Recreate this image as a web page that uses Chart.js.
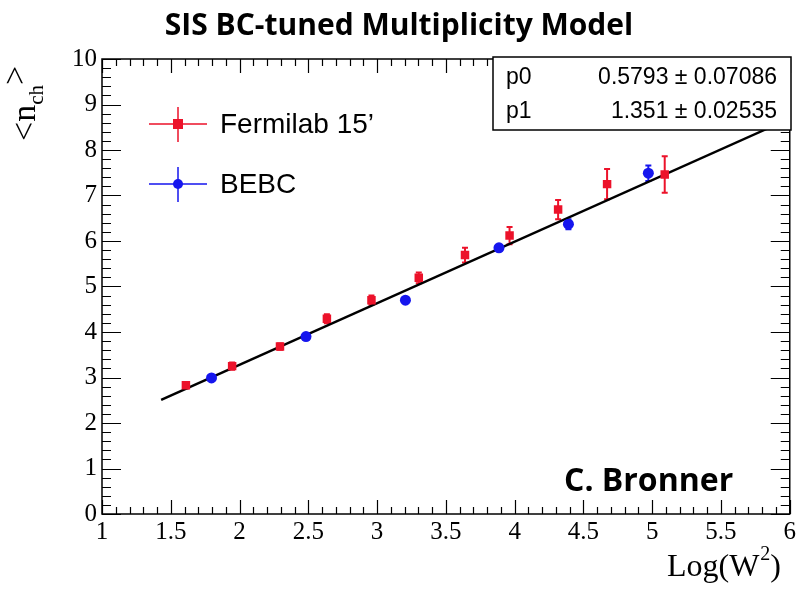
<!DOCTYPE html>
<html lang="en">
<head>
    <meta charset="UTF-8">
    <title>SIS BC-tuned Multiplicity Model</title>
    <script src="https://cdn.jsdelivr.net/npm/chart.js"></script>
    <style>
        html, body { margin: 0; padding: 0; background: #fff; }
        #wrap { width: 799px; height: 590px; }
    </style>
</head>
<body>
    <div id="wrap"><canvas id="multChart" width="799" height="590"></canvas></div>
    <script>
        // Data
        const fermiX = [1.61, 1.946, 2.294, 2.635, 2.959, 3.303, 3.639, 3.963, 4.316, 4.672, 5.091];
        const fermiY = [2.83, 3.25, 3.68, 4.29, 4.70, 5.19, 5.69, 6.12, 6.69, 7.25, 7.46];
        const fermiErr = [0.07, 0.08, 0.07, 0.10, 0.10, 0.12, 0.16, 0.19, 0.21, 0.33, 0.40];

        const bebcX = [1.796, 2.483, 3.206, 3.886, 4.391, 4.972];
        const bebcY = [2.99, 3.90, 4.70, 5.85, 6.37, 7.49];
        const bebcErr = [0.05, 0.05, 0.05, 0.06, 0.11, 0.17];

        // fit line end points
        const fitX = [1.43, 6.0];
        const fitY = [2.51, 8.69];

        const fitParams = ['p0', 'p1'];
        const fitValues = ['0.5793', '1.351'];
        const fitErrors = ['0.07086', '0.02535'];

        const xTicks = [1, 1.5, 2, 2.5, 3, 3.5, 4, 4.5, 5, 5.5, 6];
        const yTicks = [0, 1, 2, 3, 4, 5, 6, 7, 8, 9, 10];

        const RED = 'rgb(236, 18, 42)';
        const BLUE = 'rgb(22, 22, 238)';
        const SERIF = '"Liberation Serif", "DejaVu Serif", serif';
        const SANS = '"Liberation Sans", Arial, sans-serif';
        const BOLD = '"Open Sans", Lato, sans-serif';

        const toPoints = (xs, ys) => xs.map((x, i) => ({ x: x, y: ys[i] }));

        const rootStyle = {
            id: 'rootStyle',
            beforeDatasetsDraw(chart) {
                // vertical error bars
                const ctx = chart.ctx;
                const xs = chart.scales.x, ys = chart.scales.y;
                const sets = [[fermiX, fermiY, fermiErr, RED], [bebcX, bebcY, bebcErr, BLUE]];
                ctx.save();
                ctx.lineWidth = 2;
                sets.forEach(([px, py, pe, col]) => {
                    ctx.strokeStyle = col;
                    px.forEach((x, i) => {
                        const cx = xs.getPixelForValue(x);
                        const y1 = ys.getPixelForValue(py[i] - pe[i]);
                        const y2 = ys.getPixelForValue(py[i] + pe[i]);
                        ctx.beginPath();
                        ctx.moveTo(cx, y1); ctx.lineTo(cx, y2);
                        ctx.moveTo(cx - 3, y1); ctx.lineTo(cx + 3, y1);
                        ctx.moveTo(cx - 3, y2); ctx.lineTo(cx + 3, y2);
                        ctx.stroke();
                    });
                });
                ctx.restore();
            },
            afterDraw(chart) {
                const ctx = chart.ctx;
                const a = chart.chartArea;
                const xs = chart.scales.x, ys = chart.scales.y;
                ctx.save();

                // frame
                ctx.strokeStyle = '#000';
                ctx.lineWidth = 1.5;
                ctx.strokeRect(a.left, a.top, a.right - a.left, a.bottom - a.top);

                // ticks on all four sides
                ctx.lineWidth = 1.2;
                ctx.beginPath();
                for (let v = 1; v <= 6.0001; v += 0.1) {
                    const major = Math.abs(v * 2 - Math.round(v * 2)) < 1e-6;
                    const len = major ? 14 : 7;
                    const px = Math.round(xs.getPixelForValue(v)) + 0.5;
                    ctx.moveTo(px, a.bottom); ctx.lineTo(px, a.bottom - len);
                    ctx.moveTo(px, a.top); ctx.lineTo(px, a.top + len);
                }
                for (let v = 0; v <= 10.0001; v += 0.2) {
                    const major = Math.abs(v - Math.round(v)) < 1e-6;
                    const len = major ? 19 : 9;
                    const py = Math.round(ys.getPixelForValue(v)) + 0.5;
                    ctx.moveTo(a.left, py); ctx.lineTo(a.left + len, py);
                    ctx.moveTo(a.right, py); ctx.lineTo(a.right - len, py);
                }
                ctx.stroke();

                // title
                ctx.fillStyle = '#000';
                ctx.font = 'bold 30px ' + BOLD;
                ctx.textAlign = 'center';
                ctx.textBaseline = 'alphabetic';
                ctx.fillText('SIS BC-tuned Multiplicity Model', 399, 35);

                // x axis title
                ctx.font = '32px ' + SERIF;
                ctx.textAlign = 'right';
                ctx.fillText(')', 781, 576);
                let w = ctx.measureText(')').width;
                ctx.font = '20px ' + SERIF;
                ctx.fillText('2', 781 - w, 560);
                w += ctx.measureText('2').width + 1;
                ctx.font = '32px ' + SERIF;
                ctx.fillText('Log(W', 781 - w, 576);

                // y axis title, rotated
                ctx.save();
                ctx.translate(35, 141);
                ctx.rotate(-Math.PI / 2);
                ctx.textAlign = 'left';
                ctx.font = '34px ' + SERIF;
                ctx.fillText('<n', 0, 0);
                let off = ctx.measureText('<n').width;
                ctx.font = '21px ' + SERIF;
                ctx.fillText('ch', off, 8);
                off += ctx.measureText('ch').width;
                ctx.font = '34px ' + SERIF;
                ctx.fillText('>', off, -9);
                ctx.restore();

                // legend
                const legend = [['Fermilab 15\u2019', RED, 'rect', 124], ['BEBC', BLUE, 'circle', 184]];
                legend.forEach(([label, col, shape, ly]) => {
                    ctx.strokeStyle = col;
                    ctx.fillStyle = col;
                    ctx.lineWidth = 1.5;
                    ctx.beginPath();
                    ctx.moveTo(149, ly); ctx.lineTo(207, ly);
                    ctx.moveTo(178, ly - 17); ctx.lineTo(178, ly + 18);
                    ctx.stroke();
                    ctx.beginPath();
                    if (shape === 'rect') ctx.rect(173, ly - 5, 10, 10);
                    else ctx.arc(178, ly, 5, 0, Math.PI * 2);
                    ctx.fill();
                    ctx.fillStyle = '#000';
                    ctx.font = '28px ' + SANS;
                    ctx.textAlign = 'left';
                    ctx.textBaseline = 'middle';
                    ctx.fillText(label, 220, ly + 1);
                });

                // stats box
                ctx.fillStyle = '#fff';
                ctx.fillRect(493, 57, 298, 73);
                ctx.strokeStyle = '#000';
                ctx.lineWidth = 1.5;
                ctx.strokeRect(493, 57, 298, 73);
                ctx.fillStyle = '#000';
                ctx.font = '23px ' + SANS;
                ctx.textBaseline = 'middle';
                fitParams.forEach((p, i) => {
                    const ry = 78 + i * 34;
                    ctx.textAlign = 'left';
                    ctx.fillText(p, 506, ry);
                    ctx.textAlign = 'right';
                    ctx.fillText(fitValues[i] + ' \u00b1 ' + fitErrors[i], 777, ry);
                });

                // author tag
                ctx.font = 'bold 32px ' + BOLD;
                ctx.textAlign = 'left';
                ctx.textBaseline = 'alphabetic';
                ctx.fillText('C. Bronner', 564, 491);

                ctx.restore();
            }
        };

        new Chart(document.getElementById('multChart'), {
            type: 'scatter',
            data: {
                datasets: [
                    {
                        label: 'Fermilab 15\u2019',
                        data: toPoints(fermiX, fermiY),
                        pointStyle: 'rect',
                        pointRadius: 6,
                        backgroundColor: RED,
                        borderColor: RED,
                        borderWidth: 0,
                        order: 1
                    },
                    {
                        label: 'BEBC',
                        data: toPoints(bebcX, bebcY),
                        pointStyle: 'circle',
                        pointRadius: 5.5,
                        backgroundColor: BLUE,
                        borderColor: BLUE,
                        borderWidth: 0,
                        order: 2
                    },
                    {
                        type: 'line',
                        label: 'fit',
                        data: toPoints(fitX, fitY),
                        borderColor: '#000',
                        borderWidth: 2.5,
                        pointRadius: 0,
                        fill: false,
                        order: 3
                    }
                ]
            },
            options: {
                responsive: false,
                animation: false,
                layout: { padding: { left: 0, right: 8, top: 59, bottom: 0 } },
                plugins: {
                    legend: { display: false },
                    tooltip: { enabled: false },
                    title: { display: false }
                },
                scales: {
                    x: {
                        type: 'linear',
                        min: 1,
                        max: 6,
                        afterBuildTicks: (s) => { s.ticks = xTicks.map(v => ({ value: v })); },
                        afterFit: (s) => { s.height = 76; },
                        grid: { display: false, drawTicks: false },
                        border: { display: false },
                        ticks: {
                            color: '#000',
                            font: { family: SERIF, size: 25 },
                            padding: 3,
                            maxRotation: 0,
                            autoSkip: false,
                            callback: (v) => String(v)
                        }
                    },
                    y: {
                        type: 'linear',
                        min: 0,
                        max: 10,
                        afterBuildTicks: (s) => { s.ticks = yTicks.map(v => ({ value: v })); },
                        afterFit: (s) => { s.width = 102; },
                        grid: { display: false, drawTicks: false },
                        border: { display: false },
                        ticks: {
                            color: '#000',
                            font: { family: SERIF, size: 25 },
                            padding: 5,
                            autoSkip: false,
                            callback: (v) => String(v)
                        }
                    }
                }
            },
            plugins: [rootStyle]
        });
    </script>
</body>
</html>
